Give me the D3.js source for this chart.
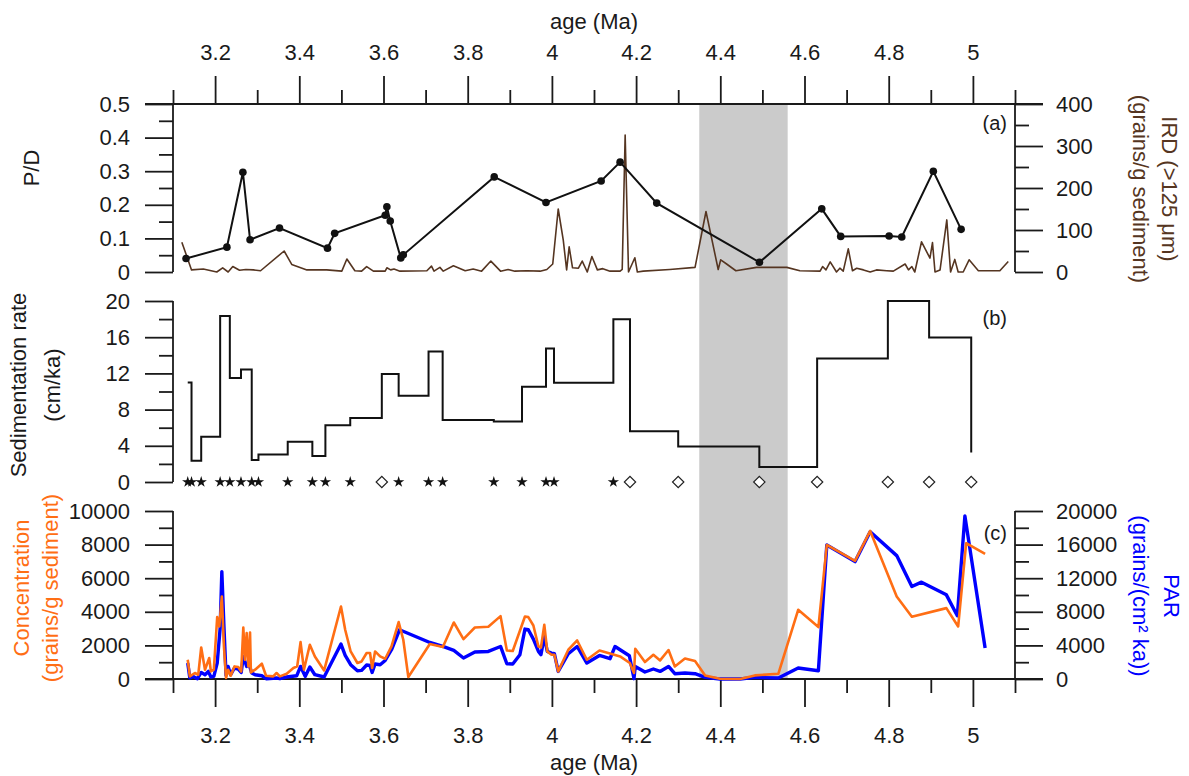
<!DOCTYPE html>
<html>
<head>
<meta charset="utf-8">
<script src="https://cdn.jsdelivr.net/npm/d3@7"></script>
<style>
  body { margin: 0; background: #fff; }
  svg text { font-family: Arial, "Liberation Sans", sans-serif; fill: #1a1a1a; }
</style>
</head>
<body>
<svg id="chart" width="1189" height="776"></svg>
<script>
// ---- data ----
// (a) P/D ratio, [age Ma, P/D]
const pdData = [
  [3.131, 0.040], [3.228, 0.074], [3.266, 0.297], [3.283, 0.096], [3.353, 0.131],
  [3.467, 0.071], [3.484, 0.115], [3.604, 0.169], [3.608, 0.194], [3.616, 0.152],
  [3.641, 0.042], [3.647, 0.051], [3.863, 0.283], [3.986, 0.207], [4.117, 0.271],
  [4.162, 0.327], [4.249, 0.205], [4.493, 0.029], [4.641, 0.188], [4.686, 0.106],
  [4.801, 0.107], [4.831, 0.104], [4.906, 0.300], [4.972, 0.127]
]

// (a) IRD >125 um, [age Ma, grains/g]
const irdData = [
  [3.121, 71], [3.144, 5], [3.172, 7], [3.204, 0], [3.218, 10], [3.231, 0], [3.242, 13],
  [3.258, 4], [3.273, 6], [3.291, 5], [3.308, 3], [3.364, 50], [3.382, 18], [3.418, 5],
  [3.465, 5], [3.501, 2], [3.513, 31], [3.532, 3], [3.548, 2], [3.560, 13], [3.576, 2],
  [3.604, 2], [3.608, 10], [3.617, 5], [3.625, 7], [3.639, 2], [3.703, 3], [3.714, 14],
  [3.720, 2], [3.734, 11], [3.742, 2], [3.766, 15], [3.794, 3], [3.813, 7], [3.833, 2],
  [3.855, 26], [3.878, 2], [3.896, 6], [3.912, 2], [3.940, 3], [3.972, 2], [3.988, 6],
  [4.002, 19], [4.015, 150], [4.027, 76], [4.035, 5], [4.041, 60], [4.049, 10], [4.063, 9],
  [4.072, 26], [4.084, 0], [4.095, 37], [4.108, 5], [4.121, 8], [4.138, 2], [4.162, 2],
  [4.167, 6], [4.174, 326], [4.182, 0], [4.197, 34], [4.203, 0], [4.217, 2], [4.280, 6],
  [4.340, 11], [4.366, 144], [4.395, 6], [4.401, 29], [4.415, 19], [4.437, 3], [4.486, 11],
  [4.558, 11], [4.589, 3], [4.637, 2], [4.643, 13], [4.651, 5], [4.661, 24], [4.676, 0],
  [4.684, 9], [4.692, 2], [4.704, 55], [4.714, 3], [4.724, 9], [4.740, 5], [4.756, 0],
  [4.771, 5], [4.795, 3], [4.811, 2], [4.839, 19], [4.847, 5], [4.855, 13], [4.862, 0],
  [4.878, 72], [4.898, 33], [4.904, 70], [4.910, 0], [4.922, 5], [4.938, 124], [4.947, 0],
  [4.957, 30], [4.965, 0], [4.977, 0], [4.991, 29], [5.013, 3], [5.064, 3], [5.084, 25]
]

// (b) sedimentation rate steps: age where each step starts, rate (cm/ka)
const sedAge = [3.135, 3.144, 3.167, 3.212, 3.235, 3.2615, 3.287, 3.303, 3.3725, 3.431,
  3.462, 3.521, 3.596, 3.636, 3.707, 3.7405, 3.862, 3.929, 3.986, 4.005, 4.146, 4.1855,
  4.300, 4.4927, 4.630, 4.798, 4.896, 4.996]
const sedRate = [11, 2.35, 5.0, 18.35, 11.5, 12.44, 2.42, 3.04, 4.44, 2.86,
  6.27, 7.08, 11.93, 9.54, 14.43, 6.86, 6.68, 10.53, 14.75, 10.97, 17.98, 5.61,
  3.92, 1.65, 13.65, 20, 15.97, 3.26]
// tie-point type at each step age
const tieType = ['star', 'star', 'star', 'star', 'star', 'star', 'star', 'star', 'star', 'star',
  'star', 'star', 'diamond', 'star', 'star', 'star', 'star', 'star', 'star', 'star', 'star', 'diamond',
  'diamond', 'diamond', 'diamond', 'diamond', 'diamond', 'diamond']

// (c) pollen concentration, [age Ma, grains/g]
const concData = [
  [3.135, 1147], [3.140, 155], [3.152, 356], [3.160, 255], [3.167, 1878], [3.176, 553],
  [3.186, 1248], [3.190, 452], [3.197, 553], [3.205, 3684], [3.210, 3125], [3.216, 4909],
  [3.221, 1937], [3.226, 59], [3.231, 553], [3.237, 196], [3.246, 749], [3.255, 713],
  [3.262, 452], [3.267, 3066], [3.271, 1147], [3.275, 2733], [3.279, 749], [3.283, 2769],
  [3.285, 392], [3.295, 553], [3.311, 909], [3.321, 196], [3.338, 155], [3.346, 356],
  [3.354, 155], [3.370, 315], [3.386, 653], [3.395, 749], [3.403, 2198], [3.411, 553],
  [3.425, 2038], [3.437, 1343], [3.459, 511], [3.499, 4314], [3.509, 2929], [3.522, 1640],
  [3.538, 951], [3.548, 1046], [3.560, 1545], [3.568, 1545], [3.573, 653], [3.580, 1640],
  [3.592, 1343], [3.604, 1206], [3.619, 1937], [3.636, 3387], [3.647, 2335], [3.659, 119],
  [3.710, 2080], [3.741, 1901], [3.767, 3363], [3.790, 2377], [3.817, 3066], [3.849, 3108],
  [3.878, 3743], [3.893, 1699], [3.907, 1664], [3.936, 3720], [3.944, 3684], [3.956, 3185],
  [3.968, 1937], [3.974, 1878], [3.982, 3226], [3.989, 1640], [3.999, 1444], [4.006, 1444],
  [4.015, 452], [4.039, 1741], [4.060, 2294], [4.083, 1147], [4.113, 1699], [4.142, 1485],
  [4.162, 1343], [4.185, 951], [4.195, 356], [4.198, 1800], [4.221, 1010], [4.241, 1444],
  [4.257, 1105], [4.277, 1723], [4.292, 749], [4.316, 1224], [4.340, 1070], [4.364, 214],
  [4.399, 18], [4.447, 0], [4.482, 214], [4.538, 315], [4.585, 4118], [4.633, 3090],
  [4.653, 7980], [4.720, 7029], [4.756, 8812], [4.819, 4909], [4.855, 3702], [4.937, 4219],
  [4.965, 3125], [4.984, 8081], [5.029, 7445]
]

// (c) pollen accumulation rate, [age Ma, grains/(cm2 ka)]
const parData = [
  [3.135, 1901], [3.140, 119], [3.148, 309], [3.158, 36], [3.167, 784], [3.176, 511],
  [3.184, 903], [3.190, 238], [3.197, 309], [3.205, 1901], [3.212, 6061], [3.216, 12787],
  [3.221, 6251], [3.226, 428], [3.231, 1497], [3.237, 511], [3.246, 1307], [3.255, 1188],
  [3.262, 784], [3.267, 2686], [3.275, 1497], [3.281, 1699], [3.287, 713], [3.295, 511],
  [3.311, 392], [3.322, 36], [3.346, 119], [3.354, 36], [3.370, 238], [3.394, 392],
  [3.403, 1497], [3.414, 309], [3.425, 1426], [3.437, 511], [3.459, 238], [3.499, 4159],
  [3.509, 2805], [3.522, 1699], [3.538, 986], [3.548, 1022], [3.560, 1664], [3.568, 1616],
  [3.573, 784], [3.580, 1783], [3.592, 1699], [3.604, 2211], [3.619, 3482], [3.638, 5859],
  [3.710, 4349], [3.741, 3874], [3.767, 3399], [3.790, 2496], [3.817, 3209], [3.849, 3280],
  [3.878, 3874], [3.893, 1818], [3.907, 1783], [3.924, 2888], [3.936, 5942], [3.944, 5859],
  [3.956, 4753], [3.968, 3280], [3.974, 2888], [3.982, 5062], [3.989, 3280], [3.999, 3090],
  [4.006, 3007], [4.015, 903], [4.039, 3007], [4.060, 3874], [4.083, 1901], [4.113, 2805],
  [4.138, 2412], [4.150, 3874], [4.184, 2769], [4.195, 36], [4.198, 1497], [4.221, 832],
  [4.241, 1188], [4.257, 903], [4.277, 1497], [4.292, 630], [4.316, 713], [4.340, 630],
  [4.364, 190], [4.399, 0], [4.447, 0], [4.482, 190], [4.538, 119], [4.585, 1307],
  [4.633, 986], [4.653, 15960], [4.720, 13975], [4.756, 17540], [4.819, 14688], [4.855, 11004],
  [4.878, 11528], [4.937, 10018], [4.963, 7522], [4.981, 19406], [5.029, 3684]
]

// grey hiatus band
const hiatus = [4.35, 4.56]

// tick values
const ageMajor = [3.2, 3.4, 3.6, 3.8, 4.0, 4.2, 4.4, 4.6, 4.8, 5.0]
const ageMinor = [3.1, 3.3, 3.5, 3.7, 3.9, 4.1, 4.3, 4.5, 4.7, 4.9, 5.1]
const pdMajor = [0, 0.1, 0.2, 0.3, 0.4, 0.5]
const pdMinor = [0.05, 0.15, 0.25, 0.35, 0.45]
const irdMajor = [0, 100, 200, 300, 400]
const irdMinor = [50, 150, 250, 350]
const sedMajor = [0, 4, 8, 12, 16, 20]
const sedMinor = [2, 6, 10, 14, 18]
const concMajor = [0, 2000, 4000, 6000, 8000, 10000]
const concMinor = [1000, 3000, 5000, 7000, 9000]
const parMajor = [0, 4000, 8000, 12000, 16000, 20000]
const parMinor = [2000, 6000, 10000, 14000, 18000]

// ---- drawing ----
const svg = d3.select('#chart')
const fontSize = 22
const orange = '#ff6e14'
const blue = '#0000ff'
const brown = '#553521'

const x = d3.scaleLinear().domain([3.1, 5.1]).range([173, 1015])
const yPD = d3.scaleLinear().domain([0, 0.5]).range([272, 104])
const yIRD = d3.scaleLinear().domain([0, 400]).range([272, 104])
const ySed = d3.scaleLinear().domain([0, 20]).range([482, 301])
const yConc = d3.scaleLinear().domain([0, 10000]).range([679, 511])
const yPAR = d3.scaleLinear().domain([0, 20000]).range([679, 511])

const fmt = d3.format('~g')

// Shaded band behind everything
svg.append('rect')
  .attr('x', x(hiatus[0]))
  .attr('y', yPD(0.5))
  .attr('width', x(hiatus[1]) - x(hiatus[0]))
  .attr('height', yConc(0) - yPD(0.5))
  .attr('fill', '#cbcbcb')

// Draws a major + minor tick set with a given axis generator
function ticks(axisFn, scale, major, minor, tx, ty, pad) {
  const g = svg.append('g').attr('transform', `translate(${tx},${ty})`)
  g.append('g').call(axisFn(scale).tickValues(major).tickSize(28).tickSizeOuter(0)
    .tickPadding(pad).tickFormat(fmt))
  g.append('g').call(axisFn(scale).tickValues(minor).tickSize(14).tickSizeOuter(0)
    .tickFormat(''))
  g.selectAll('.domain').remove()
  g.selectAll('line').attr('stroke', '#1a1a1a').attr('stroke-width', 1.8)
  g.selectAll('text').attr('font-size', fontSize).attr('fill', '#1a1a1a')
    .style('font-family', 'Arial, "Liberation Sans", sans-serif')
  return g
}

function hline(x1, x2, y) {
  svg.append('line').attr('x1', x1).attr('x2', x2).attr('y1', y).attr('y2', y)
    .attr('stroke', '#1a1a1a').attr('stroke-width', 1.8)
}
function vline(xv, y1, y2) {
  svg.append('line').attr('x1', xv).attr('x2', xv).attr('y1', y1).attr('y2', y2)
    .attr('stroke', '#1a1a1a').attr('stroke-width', 1.8)
}

// Age axes (top and bottom)
ticks(d3.axisTop, x, ageMajor, ageMinor, 0, yPD(0.5), 16)
ticks(d3.axisBottom, x, ageMajor, ageMinor, 0, yConc(0), 20)
hline(x(3.1) - 28, x(5.1) + 28, yPD(0.5))
hline(x(3.1) - 28, x(5.1) + 28, yConc(0))

// Panel a axes
ticks(d3.axisLeft, yPD, pdMajor, pdMinor, x(3.1), 0, 15)
ticks(d3.axisRight, yIRD, irdMajor, irdMinor, x(5.1), 0, 13)
vline(x(3.1), yPD(0.5), yPD(0))
vline(x(5.1), yIRD(400), yIRD(0))

// Panel b axis
ticks(d3.axisLeft, ySed, sedMajor, sedMinor, x(3.1), 0, 15)
vline(x(3.1), ySed(20), ySed(0))

// Panel c axes
ticks(d3.axisLeft, yConc, concMajor, concMinor, x(3.1), 0, 15)
ticks(d3.axisRight, yPAR, parMajor, parMinor, x(5.1), 0, 13)
vline(x(3.1), yConc(10000), yConc(0))
vline(x(5.1), yPAR(20000), yPAR(0))

// IRD line
svg.append('path')
  .datum(irdData)
  .attr('fill', 'none')
  .attr('stroke', brown)
  .attr('stroke-width', 1.6)
  .attr('stroke-linejoin', 'round')
  .attr('d', d3.line().x(d => x(d[0])).y(d => yIRD(d[1])))

// P/D line + dots
svg.append('path')
  .datum(pdData)
  .attr('fill', 'none')
  .attr('stroke', '#111')
  .attr('stroke-width', 2)
  .attr('d', d3.line().x(d => x(d[0])).y(d => yPD(d[1])))
svg.append('g').selectAll('circle')
  .data(pdData)
  .join('circle')
  .attr('cx', d => x(d[0]))
  .attr('cy', d => yPD(d[1]))
  .attr('r', 3.8)
  .attr('fill', '#111')

// Sedimentation rate step line
const sedPoints = sedAge.map((a, i) => [a, sedRate[i]])
svg.append('path')
  .datum(sedPoints)
  .attr('fill', 'none')
  .attr('stroke', '#111')
  .attr('stroke-width', 2)
  .attr('d', d3.line().curve(d3.curveStepAfter).x(d => x(d[0])).y(d => ySed(d[1])))

// Tie points on the zero line of panel b
const tieG = svg.append('g')
sedAge.forEach((a, i) => {
  if (tieType[i] === 'star') {
    tieG.append('path')
      .attr('d', d3.symbol().type(d3.symbolStar).size(40)())
      .attr('transform', `translate(${x(a)},${ySed(0)})`)
      .attr('fill', '#111')
  } else {
    tieG.append('path')
      .attr('d', d3.symbol().type(d3.symbolSquare).size(64)())
      .attr('transform', `translate(${x(a)},${ySed(0)}) rotate(45)`)
      .attr('fill', '#fff')
      .attr('stroke', '#222')
      .attr('stroke-width', 1.2)
  }
})

// PAR (blue) then concentration (orange)
svg.append('path')
  .datum(parData)
  .attr('fill', 'none')
  .attr('stroke', blue)
  .attr('stroke-width', 3.4)
  .attr('stroke-linejoin', 'round')
  .attr('d', d3.line().x(d => x(d[0])).y(d => yPAR(d[1])))
svg.append('path')
  .datum(concData)
  .attr('fill', 'none')
  .attr('stroke', orange)
  .attr('stroke-width', 2.6)
  .attr('stroke-linejoin', 'round')
  .attr('d', d3.line().x(d => x(d[0])).y(d => yConc(d[1])))

// Panel letters
const letters = [['(a)', 123], ['(b)', 318], ['(c)', 533]]
letters.forEach(([t, y]) => {
  svg.append('text').attr('x', 1007).attr('y', y).attr('dy', '0.35em')
    .attr('text-anchor', 'end').attr('font-size', 20).text(t)
})

// Axis titles
function title(t, xv, yv, rot, color) {
  svg.append('text')
    .attr('transform', `translate(${xv},${yv}) rotate(${rot})`)
    .attr('text-anchor', 'middle')
    .attr('dy', '0.35em')
    .attr('font-size', fontSize)
    .style('fill', color || '#1a1a1a')
    .text(t)
}
title('age (Ma)', 594, 21, 0)
title('age (Ma)', 594, 762, 0)
title('P/D', 31, 168, -90)
title('Sedimentation rate', 18, 385, -90)
title('(cm/ka)', 52, 385, -90)
title('Concentration', 21, 588, -90, orange)
title('(grains/g sediment)', 50, 588, -90, orange)
title('IRD (>125 μm)', 1170, 189, 90, brown)
title('(grains/g sediment)', 1141, 189, 90, brown)
title('PAR', 1172, 596, 90, blue)
title('(grains/(cm² ka))', 1141, 596, 90, blue)
</script>
</body>
</html>
